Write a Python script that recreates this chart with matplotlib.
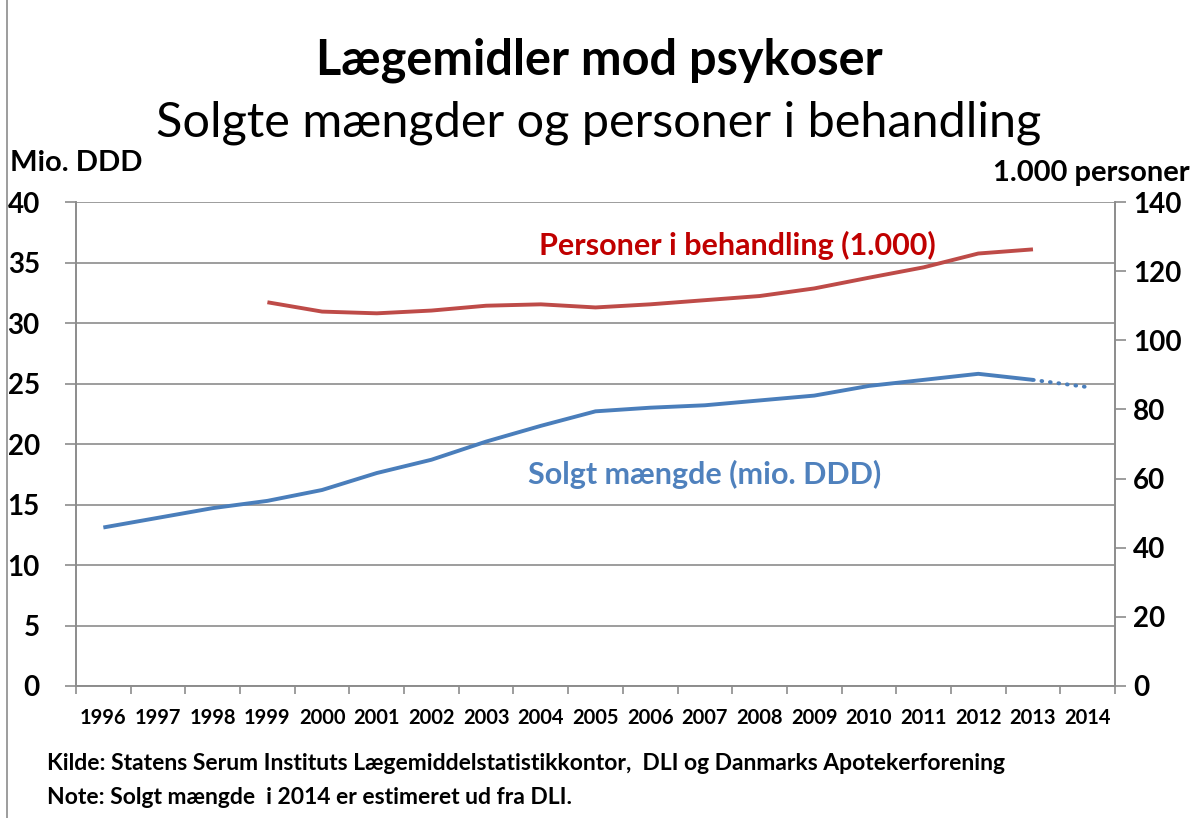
import matplotlib
matplotlib.use("Agg")
import matplotlib.pyplot as plt
import numpy as np

years = [str(y) for y in range(1996, 2015)]
# solgt mængde, mio. DDD (1996-2013 registreret, 2014 estimeret)
solgt = [13.1, 13.9, 14.7, 15.3, 16.2, 17.6, 18.7, 20.2, 21.5, 22.7,
         23.0, 23.2, 23.6, 24.0, 24.8, 25.3, 25.8, 25.3]
solgt_est = 24.7
# personer i behandling, 1.000 (1999-2013)
personer_years = [str(y) for y in range(1999, 2014)]
personer = [111.0, 108.3, 107.8, 108.6, 110.0, 110.4, 109.5, 110.4,
            111.6, 112.8, 115.0, 118.1, 121.1, 125.1, 126.3]
left_ticks = list(range(0, 41, 5))
right_ticks = list(range(0, 141, 20))

BLUE = "#4A7EBB"
RED = "#BE4B48"
GRID = "#8C8C8C"

plt.rcParams["font.family"] = ["Lato", "DejaVu Sans"]

fig = plt.figure(figsize=(11.98, 8.18), dpi=100)
ax = fig.add_axes([76 / 1198, 1 - 686 / 818, (1115 - 76) / 1198, (686 - 202) / 818])
ax2 = ax.twinx()

xc = np.arange(len(years)) + 0.5
xs = xc[:len(solgt)]
ax.plot(xs, solgt, color=BLUE, lw=2.8, solid_capstyle="butt", zorder=3)
ax.plot([xs[-1], xc[len(solgt)]], [solgt[-1], solgt_est], color=BLUE, lw=2.8,
        linestyle=(0, (0.2, 2.0)), dash_capstyle="round", zorder=3)

xp = [xc[years.index(y)] for y in personer_years]
ax2.plot(xp, personer, color=RED, lw=2.8, solid_capstyle="butt", zorder=3)

# left axis
ax.set_xlim(0, len(years))
ax.set_ylim(0, 40)
ax.set_yticks(left_ticks)
ax.set_yticklabels([str(t) for t in left_ticks], fontsize=20,
                   fontweight="bold")
ax.yaxis.grid(True, color=GRID, lw=1.2)
ax.set_axisbelow(True)
ax.tick_params(axis="y", length=8, color=GRID, width=1.2, pad=18)

ax.set_xticks(range(0, len(years) + 1))
ax.set_xticklabels([])
ax.tick_params(axis="x", which="major", length=6, color=GRID, width=1.2)
ax.set_xticks(xc, minor=True)
ax.set_xticklabels(years, minor=True, fontsize=14.5, fontweight="bold")
ax.tick_params(axis="x", which="minor", length=0, pad=16)

# right axis
ax2.set_ylim(0, 140)
ax2.set_yticks(right_ticks)
ax2.set_yticklabels([str(t) for t in right_ticks], fontsize=20,
                    fontweight="bold")
ax2.tick_params(axis="y", length=8, color=GRID, width=1.2, pad=5)

for a in (ax, ax2):
    a.spines["top"].set_visible(False)
    for side in ("left", "right", "bottom"):
        a.spines[side].set_color(GRID)
        a.spines[side].set_linewidth(1.2)

# series labels
ax.text(12.1, 36.45, "Personer i behandling (1.000)", color="#C00000",
        fontsize=22, fontweight="bold", ha="center", va="center")
ax.text(11.5, 17.5, "Solgt mængde (mio. DDD)", color="#4F81BD",
        fontsize=22, fontweight="bold", ha="center", va="center")

# titles and axis captions
fig.text(0.5, 1 - 60 / 818, "Lægemidler mod psykoser", ha="center",
         va="center", fontsize=35, fontweight="bold")
fig.text(0.5, 1 - 123 / 818, "Solgte mængder og personer i behandling",
         ha="center", va="center", fontsize=35)
fig.text(10 / 1198, 1 - 163 / 818, "Mio. DDD", ha="left", va="center",
         fontsize=21, fontweight="bold")
fig.text(1190 / 1198, 1 - 173 / 818, "1.000 personer", ha="right",
         va="center", fontsize=21, fontweight="bold")

fig.text(47 / 1198, 1 - 764 / 818,
         "Kilde: Statens Serum Instituts Lægemiddelstatistikkontor,  DLI og "
         "Danmarks Apotekerforening", ha="left", va="center", fontsize=16.5,
         fontweight="bold")
fig.text(47 / 1198, 1 - 797 / 818,
         "Note: Solgt mængde  i 2014 er estimeret ud fra DLI.", ha="left",
         va="center", fontsize=16.5, fontweight="bold")

# chart frame edge on the left
fig.add_artist(plt.Line2D([7 / 1198, 7 / 1198], [0, 1], color=GRID, lw=1.2,
                          transform=fig.transFigure))

fig.savefig("out.png", dpi=100)
